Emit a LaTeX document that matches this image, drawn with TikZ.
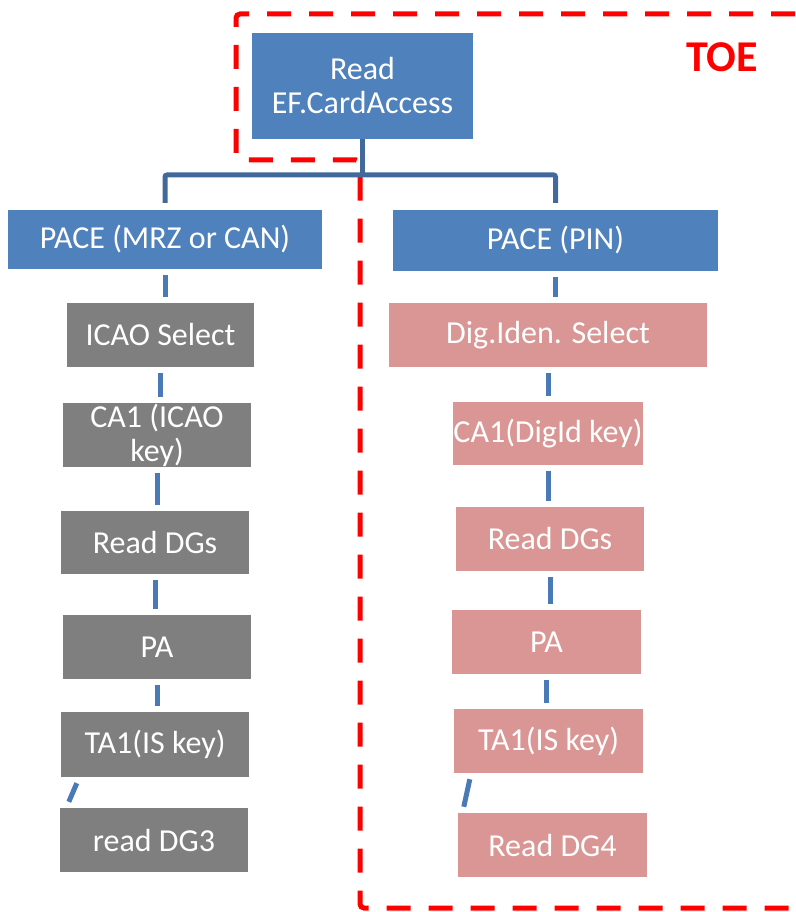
\documentclass[tikz,border=0pt]{standalone}
\usepackage{fontspec}
\setmainfont{Carlito}
\usetikzlibrary{calc}
\definecolor{boxblue}{HTML}{4F81BD}
\definecolor{boxgray}{HTML}{7F7F7F}
\definecolor{boxpink}{HTML}{D99694}
\definecolor{connblue}{HTML}{4A7AB5}
\definecolor{treeblue}{HTML}{41699B}
\definecolor{toered}{HTML}{FF0000}
\tikzset{
  box/.style={rectangle, inner sep=0pt, text=white, align=center,
    font=\fontsize{32}{34}\selectfont},
  bluebox/.style={box, fill=boxblue},
  graybox/.style={box, fill=boxgray},
  pinkbox/.style={box, fill=boxpink},
  conn/.style={draw=connblue, line width=5pt, shorten <=6pt, shorten >=6pt},
  slant/.style={draw=connblue, line width=5pt},
  tree/.style={draw=treeblue, line width=5pt, rounded corners=2pt},
  toe/.style={draw=toered, line width=5pt, dash pattern=on 24pt off 18pt, rounded corners=4pt},
}
\begin{document}
\begin{tikzpicture}[x=1pt, y=-1pt]
\useasboundingbox (0,0) rectangle (795,912);
% TOE boundary
\draw[toe] (795,14) -- (236,14) -- (236,160) -- (360,160) -- (360,908) -- (795,908);
\node[text=toered, font=\fontsize{44}{48}\selectfont\bfseries] (toe) at (722,57) {TOE};
% boxes
\node[bluebox, minimum width=221pt, minimum height=106pt] (top) at (362.5,86) {Read\\EF.CardAccess};
\node[bluebox, minimum width=314pt, minimum height=59pt] (pmrz) at (165,239.5) {PACE (MRZ or CAN)};
\node[bluebox, minimum width=325pt, minimum height=61pt] (ppin) at (555.5,240.5) {PACE (PIN)};
% left column
\node[graybox, minimum width=187pt, minimum height=64pt] (icao) at (160.5,335) {ICAO Select};
\node[graybox, minimum width=188pt, minimum height=64pt] (ca1l) at (157,435) {CA1 (ICAO\\key)};
\node[graybox, minimum width=188pt, minimum height=63pt] (dgsl) at (155,542.5) {Read DGs};
\node[graybox, minimum width=188pt, minimum height=64pt] (pal) at (157,647) {PA};
\node[graybox, minimum width=188pt, minimum height=65pt] (ta1l) at (155,744.5) {TA1(IS key)};
\node[graybox, minimum width=188pt, minimum height=64pt] (dg3) at (154,840) {read DG3};
% right column
\node[pinkbox, minimum width=318pt, minimum height=64pt] (digsel) at (548,335) {Dig.Iden. Select};
\node[pinkbox, minimum width=188pt, minimum height=63pt] (ca1r) at (548,433.5) {CA1(DigId key)};
\node[pinkbox, minimum width=188pt, minimum height=64pt] (dgsr) at (550,539) {Read DGs};
\node[pinkbox, minimum width=189pt, minimum height=64pt] (par) at (546.5,642) {PA};
\node[pinkbox, minimum width=189pt, minimum height=64pt] (ta1r) at (548.5,741) {TA1(IS key)};
\node[pinkbox, minimum width=189pt, minimum height=64pt] (dg4) at (552.5,845) {Read DG4};
% tree
\coordinate (bus) at (0,175);
\draw[tree] (top.south) -- (top.south |- bus);
\draw[tree] ($(pmrz.north)+(0,-7)$) |- ($(ppin.north |- bus)$) -- ($(ppin.north)+(0,-7)$);
% column connectors
\draw[conn] (pmrz.south) -- (pmrz.south |- icao.north);
\draw[conn] (icao.south) -- (icao.south |- ca1l.north);
\draw[conn] (ca1l.south) -- (ca1l.south |- dgsl.north);
\draw[conn] (dgsl.south) -- (dgsl.south |- pal.north);
\draw[conn] (pal.south) -- (pal.south |- ta1l.north);
\draw[slant] ($(ta1l.south west)+(16,6)$) -- ($(dg3.north west)+(9,-6)$);
\draw[conn] (ppin.south) -- (ppin.south |- digsel.north);
\draw[conn] (digsel.south) -- (digsel.south |- ca1r.north);
\draw[conn] (ca1r.south) -- (ca1r.south |- dgsr.north);
\draw[conn] (dgsr.south) -- (dgsr.south |- par.north);
\draw[conn] (par.south) -- (par.south |- ta1r.north);
\draw[slant] ($(ta1r.south west)+(16,6)$) -- ($(dg4.north west)+(6,-6)$);
\end{tikzpicture}
\end{document}
